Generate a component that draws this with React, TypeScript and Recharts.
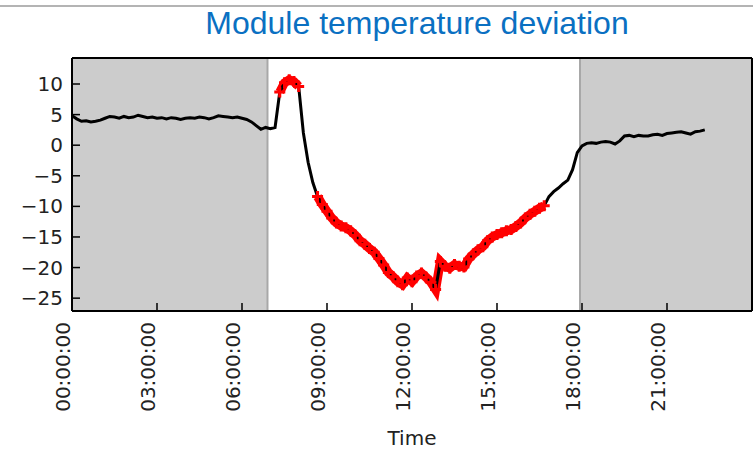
import { LineChart, Line, XAxis, YAxis, ReferenceArea, ReferenceLine } from 'recharts';

// samples every 10 minutes, starting 00:00
const STEP_MINUTES = 10;

// module temperature deviation (°C)
const temperature = [
  4.8, 4.3, 3.9, 4.0, 3.8, 3.9, 4.1, 4.4, 4.7, 4.6,
  4.4, 4.7, 4.5, 4.6, 4.9, 4.7, 4.5, 4.6, 4.4, 4.5,
  4.3, 4.5, 4.4, 4.2, 4.4, 4.5, 4.4, 4.6, 4.5, 4.3,
  4.5, 4.8, 4.7, 4.6, 4.5, 4.6, 4.4, 4.2, 3.8, 3.2,
  2.6, 2.9, 2.7, 2.9, 8.7, 10.2, 10.7, 10.4, 9.6, 2.0,
  -2.8, -6.1, -8.4, -9.7, -10.8, -11.9, -12.7, -13.2, -13.5, -14.0,
  -14.7, -15.6, -16.2, -16.9, -17.5, -18.5, -19.6, -20.8, -21.5, -22.3,
  -22.8, -21.7, -22.3, -21.4, -20.9, -21.6, -22.4, -23.6, -19.0, -19.8,
  -20.1, -19.5, -19.8, -19.9, -18.6, -17.8, -17.1, -16.6, -15.6, -15.0,
  -14.6, -14.3, -14.0, -13.8, -13.3, -12.7, -11.9, -11.3, -10.8, -10.3,
  -9.9, -8.4, -7.6, -7.0, -6.3, -5.7, -4.0, -1.2, -0.1, 0.3,
  0.4, 0.3, 0.5, 0.6, 0.5, 0.2, 0.7, 1.5, 1.6, 1.4,
  1.6, 1.5, 1.5, 1.7, 1.8, 1.6, 1.9, 2.0, 2.1, 2.2,
  2.0, 1.8, 2.2, 2.3, 2.5,
];

// hours flagged as anomalous (red markers)
const anomalyRanges = [
  [7.33, 8.0],
  [8.67, 16.67],
];

// shaded night hours
const nightSpans = [
  [0, 6.9],
  [17.93, 24],
];

const xTicks = [0, 3, 6, 9, 12, 15, 18, 21];
const yTicks = [10, 5, 0, -5, -10, -15, -20, -25];
const Y_DOMAIN: [number, number] = [-27.1, 14.25];

const data = temperature.map((t, i) => {
  const h = (i * STEP_MINUTES) / 60;
  const flagged = anomalyRanges.some(([a, b]) => h >= a - 0.01 && h <= b + 0.01);
  return { h, temp: t, anomaly: flagged ? t : null };
});

const FONT = '"DejaVu Sans", sans-serif';

const fmtTime = (h: number) => `${String(h).padStart(2, '0')}:00:00`;
const fmtNum = (v: number) => (v < 0 ? `\u2212${Math.abs(v)}` : String(v));

const TimeTick = (props: any) => {
  const { x, y, payload } = props;
  return (
    <g transform={`translate(${x - 2},${y}) rotate(-90)`}>
      <text x={0} y={0} textAnchor="end" fontSize={20} fontFamily={FONT} fill="#222">
        {fmtTime(payload.value)}
      </text>
    </g>
  );
};

const PlusDot = (props: any) => {
  const { cx, cy, value, index } = props;
  if (value == null || cx == null || cy == null) return <g key={`n-${index}`} />;
  return (
    <path
      key={`p-${index}`}
      d={`M${cx - 5.5},${cy}H${cx + 5.5}M${cx},${cy - 5.5}V${cy + 5.5}`}
      stroke="#ff0000"
      strokeWidth={3}
    />
  );
};

export default function App() {
  return (
    <div style={{ position: 'absolute', left: 0, top: 0, width: 753, height: 449, background: '#fff' }}>
      <div style={{ position: 'absolute', left: 0, top: 5, width: 753, height: 2, background: '#b4b4b4' }} />
      <svg width={753} height={50} style={{ position: 'absolute', left: 0, top: 0 }}>
        <text x={417} y={34} textAnchor="middle" fontSize={32} fontFamily='"Liberation Sans", Arial, sans-serif' fill="#0a70c2">
          Module temperature deviation
        </text>
      </svg>
      <div style={{ position: 'absolute', left: 0, top: 0 }}>
        <LineChart width={753} height={449} data={data} margin={{ top: 57, right: 0, bottom: 0, left: 0 }}>
          {nightSpans.map(([a, b]) => (
            <ReferenceArea key={`n${a}`} x1={a} x2={b} fill="#cccccc" fillOpacity={1} stroke="none" ifOverflow="hidden" />
          ))}
          <ReferenceLine x={nightSpans[0][1]} stroke="#a8a8a8" strokeWidth={2} />
          <ReferenceLine x={nightSpans[1][0]} stroke="#a8a8a8" strokeWidth={2} />
          <XAxis
            dataKey="h"
            type="number"
            domain={[0, 24]}
            ticks={xTicks}
            allowDataOverflow
            height={138}
            tickSize={-8}
            tickMargin={19}
            tick={<TimeTick />}
            axisLine={{ stroke: '#000', strokeWidth: 2 }}
            tickLine={{ stroke: '#000', strokeWidth: 1.5 }}
            label={{ value: 'Time', position: 'insideBottom', offset: 4, fontSize: 20, fontFamily: FONT, fill: '#222' }}
          />
          <XAxis
            xAxisId="top"
            orientation="top"
            type="number"
            domain={[0, 24]}
            ticks={xTicks}
            allowDataOverflow
            height={1}
            tickSize={-8}
            tick={false}
            axisLine={{ stroke: '#000', strokeWidth: 2 }}
            tickLine={{ stroke: '#000', strokeWidth: 1.5 }}
          />
          <YAxis
            type="number"
            domain={Y_DOMAIN}
            ticks={yTicks}
            allowDataOverflow
            width={72}
            tickSize={-8}
            tickMargin={17}
            tickFormatter={fmtNum}
            tick={{ fontSize: 20, fontFamily: FONT, fill: '#222' }}
            axisLine={{ stroke: '#000', strokeWidth: 2 }}
            tickLine={{ stroke: '#000', strokeWidth: 1.5 }}
          />
          <YAxis
            yAxisId="right"
            orientation="right"
            type="number"
            domain={Y_DOMAIN}
            ticks={yTicks}
            allowDataOverflow
            width={1}
            tickSize={-8}
            tick={false}
            axisLine={{ stroke: '#000', strokeWidth: 2 }}
            tickLine={{ stroke: '#000', strokeWidth: 1.5 }}
          />
          <Line
            dataKey="anomaly"
            stroke="#ff0000"
            strokeWidth={9}
            dot={<PlusDot />}
            activeDot={false}
            isAnimationActive={false}
          />
          <Line
            dataKey="temp"
            stroke="#000"
            strokeWidth={3}
            dot={false}
            activeDot={false}
            isAnimationActive={false}
          />
        </LineChart>
      </div>
    </div>
  );
}
